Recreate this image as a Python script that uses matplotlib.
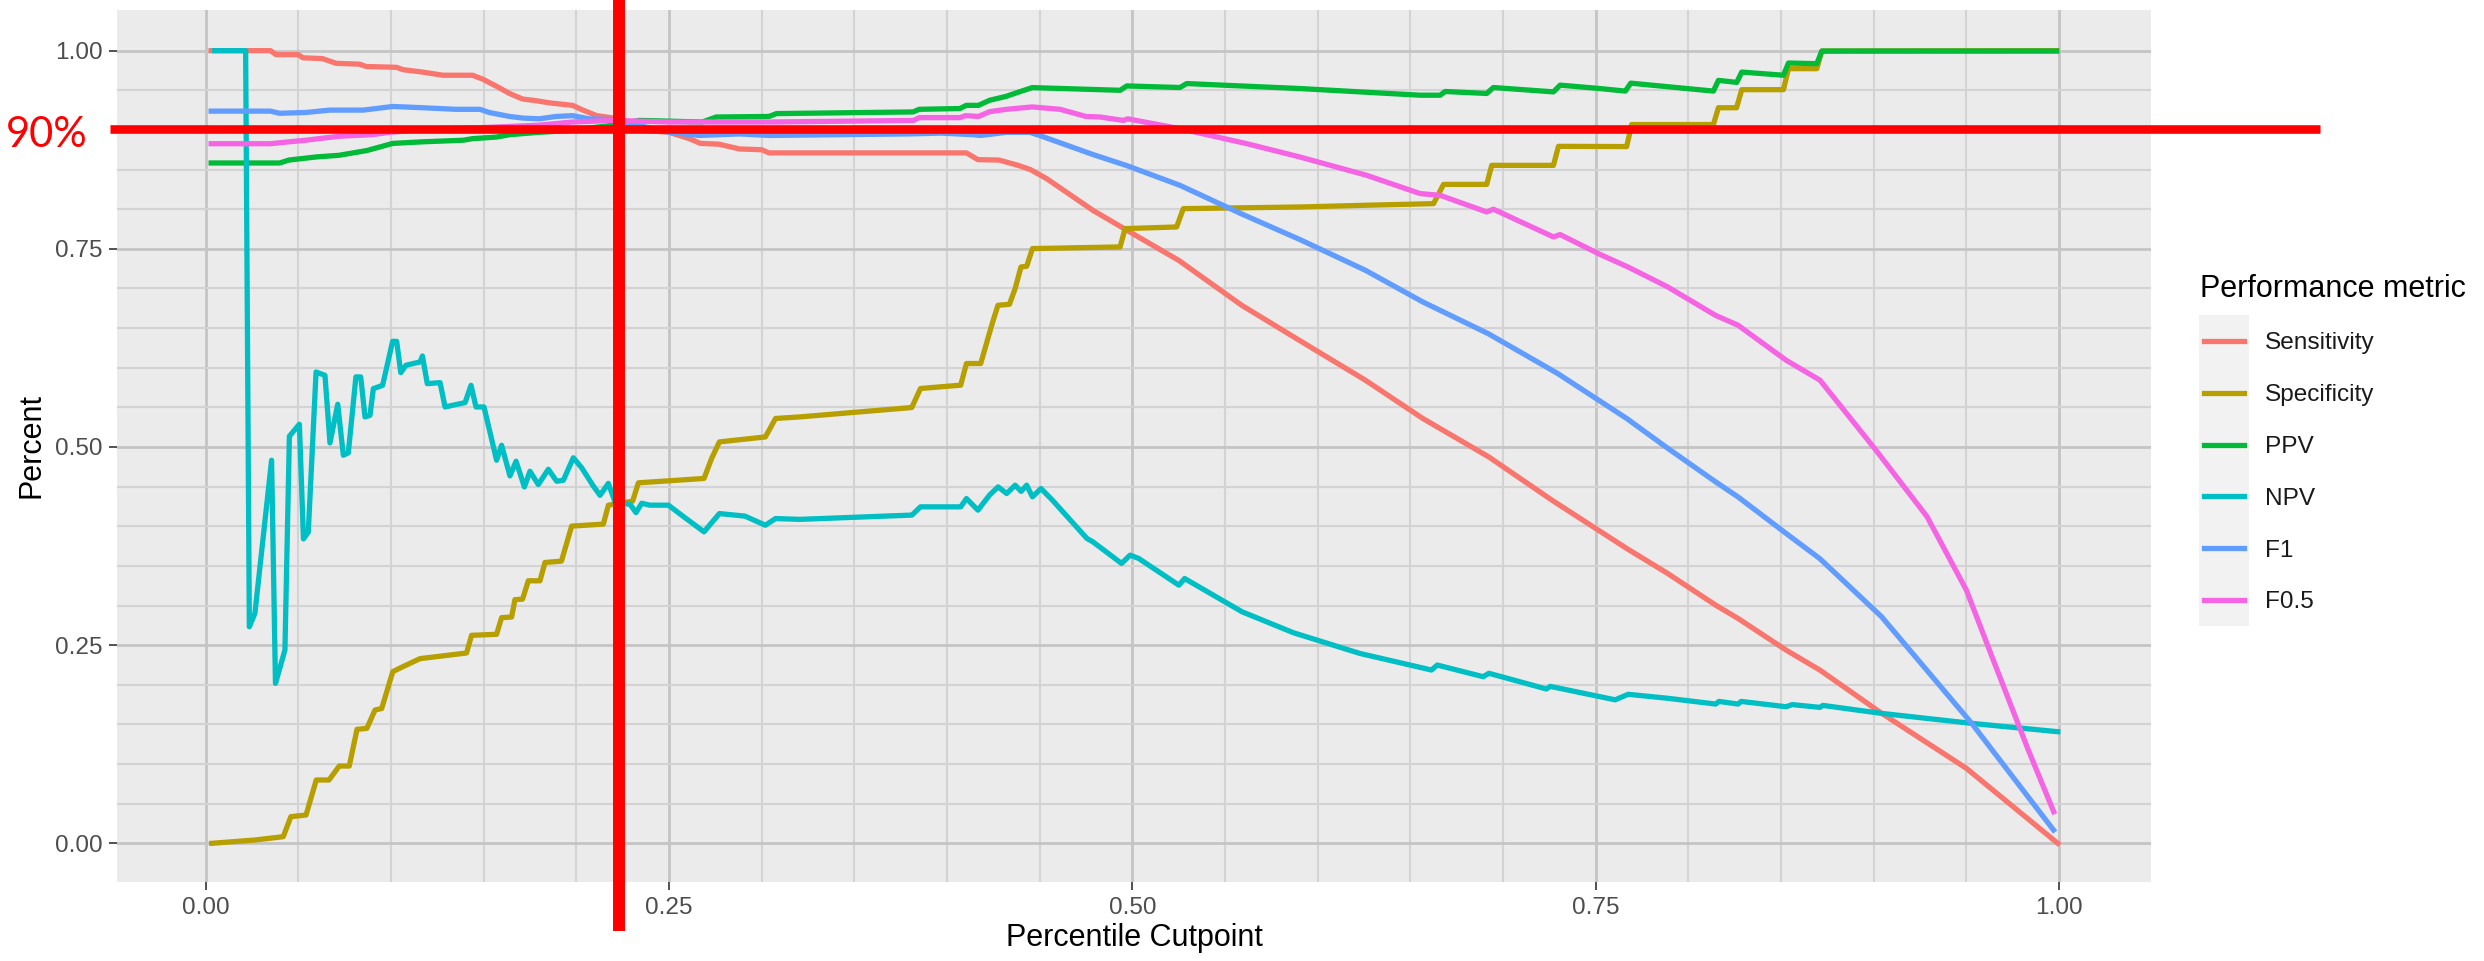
import numpy as np
import matplotlib
matplotlib.use('Agg')
import matplotlib.pyplot as plt
from matplotlib.lines import Line2D
from matplotlib.patches import Rectangle
from matplotlib.transforms import blended_transform_factory

plt.rcParams['font.family'] = ['Liberation Sans', 'DejaVu Sans']

# valeurs (x = percentile cutpoint, y = valeur de la metrique)
sens_x = [0.003, 0.035, 0.038, 0.05, 0.0525, 0.063, 0.0705, 0.083, 0.0867, 0.103, 0.1065, 0.117,
          0.128, 0.144, 0.1496, 0.157, 0.164, 0.171, 0.178, 0.186, 0.198, 0.2036, 0.211, 0.22,
          0.234, 0.25, 0.261, 0.267, 0.277, 0.288, 0.3, 0.304, 0.4105, 0.4167, 0.428, 0.4383,
          0.445, 0.4538, 0.4787, 0.5003, 0.525, 0.559, 0.59, 0.6257, 0.6567, 0.6923, 0.7264,
          0.7667, 0.7888, 0.8147, 0.8268, 0.8527, 0.871, 0.9043, 0.95, 0.9993]
sens_y = [1.0, 1.0, 0.995, 0.995, 0.991, 0.99, 0.984, 0.983, 0.98, 0.979, 0.976, 0.973,
          0.969, 0.969, 0.964, 0.955, 0.946, 0.939, 0.937, 0.934, 0.931, 0.925, 0.918, 0.915,
          0.9, 0.897, 0.889, 0.883, 0.882, 0.876, 0.875, 0.871, 0.871, 0.8625, 0.862, 0.8554,
          0.85, 0.8385, 0.7986, 0.769, 0.7355, 0.6788, 0.6347, 0.5843, 0.536, 0.4875, 0.4329,
          0.372, 0.3405, 0.3005, 0.2837, 0.2438, 0.2185, 0.164, 0.0946, 0.0]

spec_x = [0.0033, 0.0267, 0.0419, 0.046, 0.0542, 0.0597, 0.0666, 0.0721, 0.0775, 0.0817, 0.087,
          0.0914, 0.095, 0.101, 0.1065, 0.1157, 0.1408, 0.1435, 0.157, 0.1597, 0.1651, 0.1669,
          0.171, 0.1741, 0.1804, 0.1831, 0.192, 0.1975, 0.2146, 0.2173, 0.2304, 0.2335, 0.2689,
          0.273, 0.2772, 0.302, 0.3075, 0.3208, 0.381, 0.3857, 0.4074, 0.4105, 0.4182, 0.4244,
          0.4275, 0.4337, 0.4368, 0.4399, 0.443, 0.4461, 0.4934, 0.4961, 0.5239, 0.5275, 0.5905,
          0.6265, 0.6625, 0.6679, 0.6912, 0.6939, 0.7272, 0.7299, 0.7667, 0.7694, 0.8135, 0.8162,
          0.826, 0.8288, 0.8513, 0.854, 0.8693, 0.872, 0.9987]
spec_y = [0.0, 0.0042, 0.0084, 0.0336, 0.0357, 0.0799, 0.0799, 0.0975, 0.0975, 0.1438, 0.145,
          0.1682, 0.17, 0.2166, 0.2229, 0.233, 0.2401, 0.2624, 0.2637, 0.2847, 0.2855, 0.3074,
          0.308, 0.3312, 0.3312, 0.3543, 0.356, 0.4002, 0.4027, 0.4266, 0.4317, 0.4548, 0.4603,
          0.4855, 0.5064, 0.5127, 0.536, 0.538, 0.5498, 0.5738, 0.578, 0.6053, 0.6053, 0.6558,
          0.6788, 0.68, 0.7, 0.7271, 0.728, 0.7503, 0.7524, 0.7755, 0.7776, 0.8007, 0.8028,
          0.805, 0.807, 0.8313, 0.8313, 0.8553, 0.8553, 0.8793, 0.879, 0.9068, 0.9068, 0.928,
          0.928, 0.9508, 0.9508, 0.9773, 0.9773, 0.9995, 1.0]

ppv_x = [0.003, 0.04, 0.045, 0.06, 0.072, 0.087, 0.101, 0.117, 0.139, 0.144, 0.157, 0.164, 0.18,
         0.195, 0.22, 0.234, 0.268, 0.2755, 0.304, 0.308, 0.3817, 0.385, 0.407, 0.4104, 0.417,
         0.423, 0.432, 0.439, 0.446, 0.4934, 0.497, 0.5257, 0.5293, 0.5905, 0.6553, 0.6661,
         0.6688, 0.6912, 0.6948, 0.7272, 0.7308, 0.7523, 0.766, 0.7689, 0.8135, 0.8162, 0.8261,
         0.8288, 0.8513, 0.854, 0.8693, 0.872, 0.9987]
ppv_y = [0.8583, 0.8583, 0.862, 0.866, 0.868, 0.874, 0.883, 0.885, 0.887, 0.889, 0.891, 0.894,
         0.897, 0.899, 0.906, 0.912, 0.91, 0.9163, 0.917, 0.9206, 0.9227, 0.926, 0.927, 0.931,
         0.931, 0.9374, 0.9424, 0.948, 0.9534, 0.95, 0.9555, 0.9535, 0.9585, 0.9522, 0.9438,
         0.9438, 0.9485, 0.946, 0.9535, 0.948, 0.9565, 0.9522, 0.949, 0.959, 0.949, 0.9625, 0.96,
         0.973, 0.969, 0.9844, 0.9836, 0.9995, 0.9995]

npv_x = [0.0049, 0.0216, 0.0236, 0.0266, 0.0356, 0.0377, 0.0428, 0.0452, 0.0506, 0.0528, 0.0554,
         0.0596, 0.0644, 0.0671, 0.0713, 0.0743, 0.077, 0.0811, 0.0837, 0.086, 0.0887, 0.0905,
         0.0955, 0.1009, 0.1031, 0.1053, 0.1081, 0.1157, 0.117, 0.1196, 0.1265, 0.1292, 0.14,
         0.1432, 0.1459, 0.1502, 0.157, 0.1597, 0.1642, 0.1675, 0.172, 0.175, 0.1795, 0.1849,
         0.1894, 0.193, 0.1984, 0.2029, 0.2092, 0.2128, 0.2173, 0.221, 0.229, 0.2322, 0.2353,
         0.2397, 0.2497, 0.258, 0.2689, 0.2772, 0.291, 0.302, 0.3075, 0.3207, 0.3811, 0.3857,
         0.4074, 0.4105, 0.4167, 0.4229, 0.4276, 0.4322, 0.4368, 0.44, 0.443, 0.4461, 0.4507,
         0.4569, 0.4755, 0.4787, 0.4942, 0.4988, 0.5034, 0.5251, 0.5282, 0.5592, 0.587, 0.6227,
         0.6537, 0.6614, 0.6645, 0.6893, 0.6924, 0.7234, 0.7255, 0.7605, 0.7675, 0.7888, 0.8147,
         0.8165, 0.8268, 0.8285, 0.8527, 0.856, 0.871, 0.8725, 0.9043, 0.953, 0.9993]
npv_y = [1.0, 1.0, 0.2732, 0.2901, 0.4833, 0.2018, 0.2438, 0.5136, 0.5287, 0.384, 0.3925,
         0.5946, 0.5904, 0.5051, 0.5539, 0.4896, 0.4926, 0.5884, 0.5884, 0.5379, 0.54, 0.5736,
         0.5778, 0.6333, 0.6333, 0.5938, 0.6031, 0.6073, 0.6148, 0.5799, 0.5812, 0.5505, 0.556,
         0.5778, 0.5505, 0.5505, 0.4833, 0.5022, 0.4635, 0.482, 0.4496, 0.4694, 0.4526, 0.4719,
         0.4568, 0.458, 0.4864, 0.4738, 0.4507, 0.439, 0.4541, 0.4298, 0.4277, 0.4172, 0.429,
         0.4266, 0.4266, 0.4119, 0.393, 0.416, 0.4128, 0.4013, 0.4097, 0.4087, 0.4141, 0.4245,
         0.4245, 0.435, 0.4203, 0.4392, 0.4497, 0.4413, 0.4518, 0.444, 0.4518, 0.4371, 0.4476,
         0.4329, 0.3846, 0.3804, 0.3531, 0.3636, 0.3594, 0.3257, 0.3341, 0.2921, 0.2656, 0.2396,
         0.2228, 0.2186, 0.2249, 0.2102, 0.2145, 0.1947, 0.198, 0.181, 0.188, 0.183, 0.1757,
         0.179, 0.1757, 0.179, 0.1723, 0.175, 0.1715, 0.174, 0.1639, 0.1513, 0.1408]

f1_x = [0.003, 0.035, 0.04, 0.054, 0.067, 0.085, 0.101, 0.117, 0.135, 0.148, 0.153, 0.164, 0.171,
        0.18, 0.189, 0.198, 0.207, 0.22, 0.25, 0.2665, 0.288, 0.304, 0.38, 0.397, 0.414, 0.418,
        0.432, 0.4447, 0.45, 0.4787, 0.497, 0.5257, 0.559, 0.5905, 0.6257, 0.6567, 0.692, 0.7295,
        0.7667, 0.7885, 0.8147, 0.8268, 0.8527, 0.871, 0.9043, 0.953, 0.997]
f1_y = [0.9237, 0.9237, 0.921, 0.922, 0.925, 0.925, 0.9296, 0.928, 0.926, 0.926, 0.922, 0.917,
        0.915, 0.914, 0.917, 0.918, 0.914, 0.913, 0.897, 0.893, 0.895, 0.893, 0.895, 0.896, 0.894,
        0.893, 0.897, 0.897, 0.893, 0.869, 0.855, 0.8301, 0.794, 0.7616, 0.723, 0.683, 0.643,
        0.5927, 0.536, 0.499, 0.456, 0.437, 0.391, 0.359, 0.2857, 0.151, 0.0168]

f05_x = [0.003, 0.035, 0.045, 0.054, 0.072, 0.09, 0.0993, 0.12, 0.15, 0.18, 0.198, 0.22, 0.25,
         0.306, 0.382, 0.385, 0.407, 0.41, 0.417, 0.423, 0.432, 0.446, 0.461, 0.475, 0.4826,
         0.4951, 0.4975, 0.5257, 0.5617, 0.5905, 0.6265, 0.6553, 0.6661, 0.6912, 0.6948, 0.7272,
         0.7308, 0.7523, 0.7675, 0.7888, 0.8147, 0.8268, 0.8527, 0.871, 0.9012, 0.9288, 0.95,
         0.9652, 0.9834, 0.9971]
f05_y = [0.8826, 0.8826, 0.885, 0.887, 0.892, 0.894, 0.897, 0.901, 0.903, 0.906, 0.91, 0.912, 0.91,
         0.91, 0.912, 0.9155, 0.9155, 0.918, 0.917, 0.923, 0.926, 0.929, 0.926, 0.917, 0.9163,
         0.912, 0.914, 0.9016, 0.8827, 0.8658, 0.8427, 0.8197, 0.8175, 0.7965, 0.8, 0.765,
         0.768, 0.743, 0.727, 0.702, 0.666, 0.6536, 0.6095, 0.5843, 0.496, 0.412, 0.3194,
         0.227, 0.1177, 0.0399]

noms = ['Sensitivity', 'Specificity', 'PPV', 'NPV', 'F1', 'F0.5']
couleurs = ['#F8766D', '#B79F00', '#00BA38', '#00BFC4', '#619CFF', '#F564E3']
series = [(sens_x, sens_y), (spec_x, spec_y), (ppv_x, ppv_y),
          (npv_x, npv_y), (f1_x, f1_y), (f05_x, f05_y)]

cutpoint = 0.2233   # ligne rouge verticale
seuil = 0.901       # ligne rouge horizontale (90%)

fig = plt.figure(figsize=(24.84, 9.61), dpi=100)
ax = fig.add_axes([117 / 2484, 1 - 882 / 961, (2151 - 117) / 2484, (882 - 10) / 961])

ax.set_facecolor('#EBEBEB')
for s in ax.spines.values():
    s.set_visible(False)

ax.set_xlim(-0.0478, 1.0496)
ax.set_ylim(-0.0488, 1.0513)
ax.set_xticks(np.arange(0, 1.01, 0.25))
ax.set_yticks(np.arange(0, 1.01, 0.25))
ax.set_xticks(np.arange(0, 1.01, 0.05), minor=True)
ax.set_yticks(np.arange(0, 1.01, 0.05), minor=True)
ax.set_xticklabels(['0.00', '0.25', '0.50', '0.75', '1.00'])
ax.set_yticklabels(['0.00', '0.25', '0.50', '0.75', '1.00'])
ax.grid(which='major', color='#C4C4C4', lw=2.0)
ax.grid(which='minor', color='#D3D3D3', lw=1.5)
ax.set_axisbelow(True)
ax.tick_params(which='major', length=5.5, width=1.2, color='#333333',
               labelsize=17.6, labelcolor='#4D4D4D', pad=5)
ax.tick_params(which='minor', length=0)

for (xs, ys), c in zip(series, couleurs):
    ax.plot(xs, ys, color=c, lw=3.8, solid_joinstyle='round')

ax.set_xlabel('Percentile Cutpoint', fontsize=22, labelpad=3)
ax.set_ylabel('Percent', fontsize=22, labelpad=6)

# annotations rouges
tv = blended_transform_factory(ax.transData, fig.transFigure)
fig.add_artist(Line2D([cutpoint, cutpoint], [1 - 931 / 961, 1.0], transform=tv,
                      color='#FF0000', lw=8.6, solid_capstyle='butt'))
th = blended_transform_factory(fig.transFigure, ax.transData)
fig.add_artist(Line2D([110 / 2484, 2320 / 2484], [seuil, seuil], transform=th,
                      color='#FF0000', lw=6.2, solid_capstyle='butt'))
fig.text(6 / 2484, 1 - 147 / 961, '90%', color='#FF0000', fontsize=30,
         family=['Lato', 'DejaVu Sans'], va='baseline', ha='left')

# legende facon ggplot
fig.text(2200 / 2484, 1 - 297 / 961, 'Performance metric', fontsize=22, va='baseline')
fig.add_artist(Rectangle((2199 / 2484, 1 - 626 / 961), 50 / 2484, 311 / 961,
                         transform=fig.transFigure, color='#F2F2F2', lw=0))
for i, (nom, c) in enumerate(zip(noms, couleurs)):
    yc = 1 - (341 + 51.8 * i) / 961
    fig.add_artist(Line2D([2204 / 2484, 2244 / 2484], [yc, yc], transform=fig.transFigure,
                          color=c, lw=3.8))
    fig.text(2265 / 2484, yc, nom, fontsize=17.6, color='#1A1A1A', va='center_baseline')

fig.savefig('out.png', dpi=100)
